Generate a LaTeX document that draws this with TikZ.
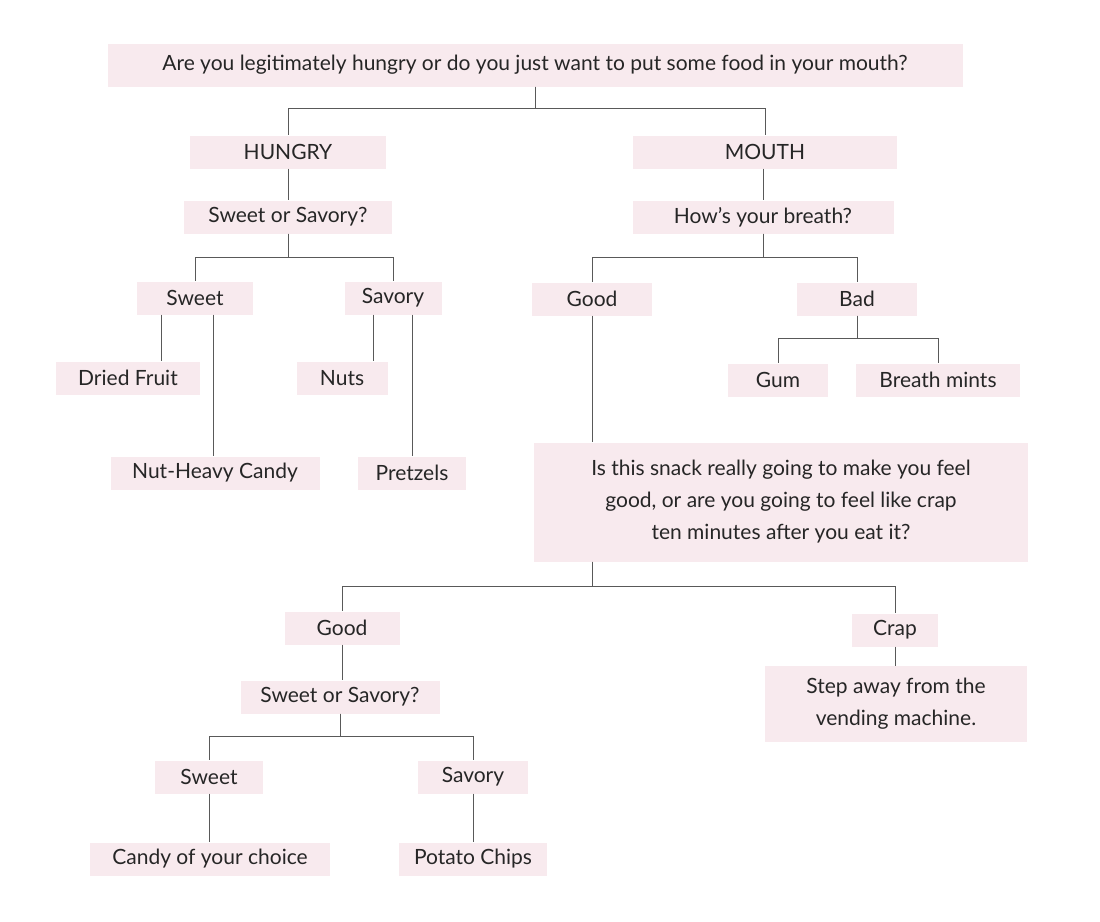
\documentclass[tikz,border=0pt]{standalone}
\usepackage{fontspec}
\setmainfont{Lato}
\begin{document}
\begin{tikzpicture}[x=1pt,y=-1pt,
  bx/.style={fill=boxpink,inner sep=0pt,font=\fontsize{21}{25}\selectfont,text=black!85,align=center},
  ln/.style={draw=black!65,line width=0.9pt}]
\definecolor{boxpink}{HTML}{F8EAEE}
\useasboundingbox[fill=white] (0,0) rectangle (1100,921);
\node[bx,minimum width=855,minimum height=43] (top) at (535,65) {Are you legitimately hungry or do you just want to put some food in your mouth?};
\node[bx,minimum width=196,minimum height=33] (hungry) at (288,152) {HUNGRY};
\node[bx,minimum width=264,minimum height=33] (mouth) at (765,152) {MOUTH};
\node[bx,minimum width=208,minimum height=33] (sos) at (288,217) {Sweet or Savory?};
\node[bx,minimum width=261,minimum height=33] (breath) at (763,217) {How’s your breath?};
\node[bx,minimum width=116,minimum height=33] (sweet) at (195,298) {Sweet};
\node[bx,minimum width=97,minimum height=33] (savory) at (393,298) {Savory};
\node[bx,minimum width=120,minimum height=33] (good) at (592,299) {Good};
\node[bx,minimum width=120,minimum height=33] (bad) at (857,299) {Bad};
\node[bx,minimum width=144,minimum height=33] (dried) at (128,378) {Dried Fruit};
\node[bx,minimum width=91,minimum height=33] (nuts) at (342,378) {Nuts};
\node[bx,minimum width=100,minimum height=33] (gum) at (778,380) {Gum};
\node[bx,minimum width=164,minimum height=33] (mints) at (938,380) {Breath mints};
\node[bx,minimum width=209,minimum height=33] (nhc) at (215,473) {Nut-Heavy Candy};
\node[bx,minimum width=108,minimum height=33] (pretzels) at (412,473) {Pretzels};
\node[bx,minimum width=494,minimum height=119,font=\fontsize{21}{32}\selectfont] (big) at (781,502) {Is this snack really going to make you feel\\good, or are you going to feel like crap\\ten minutes after you eat it?};
\node[bx,minimum width=115,minimum height=33] (good2) at (342,628) {Good};
\node[bx,minimum width=86,minimum height=33] (crap) at (895,630) {Crap};
\node[bx,minimum width=262,minimum height=76,font=\fontsize{21}{32}\selectfont] (step) at (896,704) {Step away from the\\vending machine.};
\node[bx,minimum width=199,minimum height=33] (sos2) at (340,697) {Sweet or Savory?};
\node[bx,minimum width=108,minimum height=33] (sweet3) at (209,777) {Sweet};
\node[bx,minimum width=110,minimum height=33] (savory3) at (473,777) {Savory};
\node[bx,minimum width=240,minimum height=33] (candy) at (210,859) {Candy of your choice};
\node[bx,minimum width=148,minimum height=33] (chips) at (473,859) {Potato Chips};

\draw[ln] (top.south) -- ++(0,22) -| (hungry.north);
\draw[ln] (top.south) -- ++(0,22) -| (mouth.north);
\draw[ln] (hungry.south) -- (sos.north);
\draw[ln] (mouth.south -| breath.north) -- (breath.north);
\draw[ln] (sos.south) -- ++(0,24) -| (sweet.north);
\draw[ln] (sos.south) -- ++(0,24) -| (savory.north);
\draw[ln] (breath.south) -- ++(0,24) -| (good.north);
\draw[ln] (breath.south) -- ++(0,24) -| (bad.north);
\draw[ln] ([xshift=-34]sweet.south) coordinate (s1) -- (s1 |- dried.north);
\draw[ln] ([xshift=18]sweet.south) coordinate (s2) -- (s2 |- nhc.north);
\draw[ln] ([xshift=-20]savory.south) coordinate (s3) -- (s3 |- nuts.north);
\draw[ln] ([xshift=19]savory.south) coordinate (s4) -- (s4 |- pretzels.north);
\draw[ln] (good.south) -- (good.south |- big.north);
\draw[ln] (bad.south) -- ++(0,23) -| (gum.north);
\draw[ln] (bad.south) -- ++(0,23) -| (mints.north);
\draw[ln] (big.south -| good.south) coordinate (b1) -- ++(0,25) -| (good2.north);
\draw[ln] (b1) -- ++(0,25) -| (crap.north);
\draw[ln] (good2.south) -- (good2.south |- sos2.north);
\draw[ln] (crap.south) -- (crap.south |- step.north);
\draw[ln] (sos2.south) -- ++(0,23) -| (sweet3.north);
\draw[ln] (sos2.south) -- ++(0,23) -| (savory3.north);
\draw[ln] (sweet3.south) -- (sweet3.south |- candy.north);
\draw[ln] (savory3.south) -- (chips.north);
\end{tikzpicture}
\end{document}
